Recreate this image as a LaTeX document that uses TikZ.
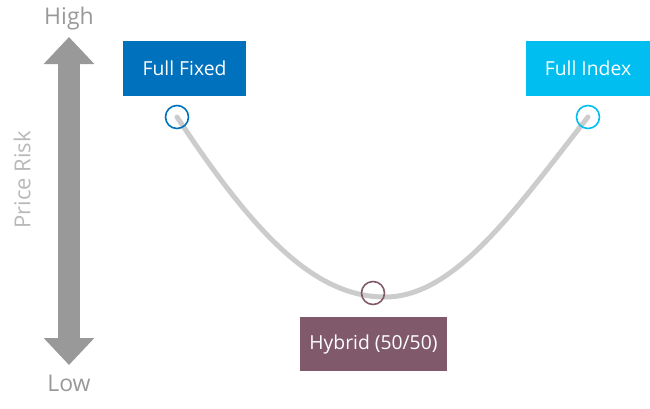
\documentclass[tikz,border=0pt]{standalone}
\usepackage{fontspec}
\setmainfont{Open Sans}
\usepackage{tikz}
\usetikzlibrary{arrows.meta,positioning}
\definecolor{fixedblue}{RGB}{0,113,188}
\definecolor{indexcyan}{RGB}{0,191,240}
\definecolor{hybridplum}{RGB}{128,90,106}
\definecolor{riskgray}{RGB}{153,153,153}
\definecolor{curvegray}{RGB}{204,204,204}
\tikzset{
  box/.style={inner sep=0pt,text=white,minimum height=55pt,
              font=\fontsize{19.3}{21}\selectfont},
  mark ring/.style={circle,draw,line width=1.6pt,minimum size=23pt,inner sep=0pt},
  axislbl/.style={text=riskgray,font=\fontsize{23}{25}\selectfont},
  bigarrow/.style={draw=riskgray,line width=22pt,
    {Triangle[length=27pt,width=49pt]}-{Triangle[length=27pt,width=49pt]}},
}

\begin{document}
\begin{tikzpicture}[x=1pt,y=-1pt]
\useasboundingbox (0,0) rectangle (650,408);
% risk scale
\coordinate (top) at (69,37);
\coordinate (bot) at (69,365);
\draw[bigarrow] (top) -- (bot);
\node[axislbl] (high) at (69,19) {High};
\node[axislbl] (low) at (69,383) {Low};
\node[text=riskgray!70, font=\fontsize{22}{24}\selectfont, rotate=90] (risk) at (22,180) {Price Risk};
% options
\node[box, fill=fixedblue, minimum width=123pt] (fixed) at (184.5,68.5) {Full Fixed};
\node[box, fill=indexcyan, minimum width=124pt] (index) at (588,68.5) {Full Index};
\node[box, fill=hybridplum, minimum width=147pt, minimum height=54pt] (hybrid) at (373.5,344) {Hybrid (50/50)};
\coordinate (pf) at (177,117);
\coordinate (pi) at (588,117);
\coordinate (ph) at (373,293);
\coordinate (low pt) at (385,297);
\draw[curvegray, line width=5pt, line cap=round]
  (pf) .. controls (255,235) and (315,297) .. (low pt)
       .. controls (455,297) and (515,210) .. (pi);
\node[mark ring, draw=fixedblue] (rf) at (pf) {};
\node[mark ring, draw=indexcyan] (ri) at (pi) {};
\node[mark ring, draw=hybridplum] (rh) at (ph) {};
\end{tikzpicture}
\end{document}
